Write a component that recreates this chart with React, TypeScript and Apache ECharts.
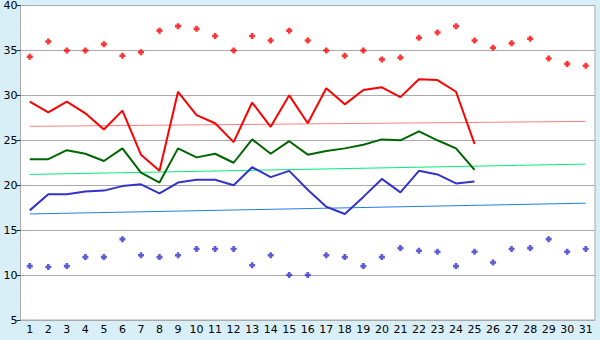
import React, { useEffect, useRef } from "react";
import * as echarts from "echarts";

const days = Array.from({ length: 31 }, (_, i) => String(i + 1));

const maxPoints = [34.3, 36.0, 35.0, 35.0, 35.7, 34.4, 34.8, 37.2, 37.7, 37.4, 36.6, 35.0, 36.6, 36.1, 37.2, 36.1, 35.0, 34.4, 35.0, 34.0, 34.2, 36.4, 37.0, 37.7, 36.1, 35.3, 35.8, 36.3, 34.1, 33.5, 33.3];
const minPoints = [11.0, 10.9, 11.0, 12.0, 12.0, 14.0, 12.2, 12.0, 12.2, 12.9, 12.9, 12.9, 11.1, 12.2, 10.0, 10.0, 12.2, 12.0, 11.0, 12.0, 13.0, 12.7, 12.6, 11.0, 12.6, 11.4, 12.9, 13.0, 14.0, 12.6, 12.9];
const maxLine = [29.3, 28.1, 29.3, 28.0, 26.2, 28.3, 23.4, 21.6, 30.4, 27.8, 26.9, 24.8, 29.2, 26.5, 30.0, 26.9, 30.8, 29.0, 30.6, 30.9, 29.8, 31.8, 31.7, 30.4, 24.6];
const meanLine = [22.9, 22.9, 23.9, 23.5, 22.7, 24.1, 21.4, 20.3, 24.1, 23.1, 23.5, 22.5, 25.1, 23.5, 24.9, 23.4, 23.8, 24.1, 24.5, 25.1, 25.0, 26.0, 25.0, 24.1, 21.7];
const minLine = [17.2, 19.0, 19.0, 19.3, 19.4, 19.9, 20.1, 19.1, 20.3, 20.6, 20.6, 20.0, 22.0, 20.9, 21.6, 19.5, 17.6, 16.8, 18.7, 20.7, 19.2, 21.6, 21.2, 20.2, 20.4];
const maxTrend: [number, number][] = [[0, 26.55], [30, 27.1]];
const meanTrend: [number, number][] = [[0, 21.2], [30, 22.35]];
const minTrend: [number, number][] = [[0, 16.8], [30, 18.0]];

const plus = "path://M1.7,0H4.3V1.7H6V4.3H4.3V6H1.7V4.3H0V1.7H1.7Z";

export default function App() {
  const ref = useRef<HTMLDivElement>(null);
  useEffect(() => {
    const chart = echarts.init(ref.current!, null, { renderer: "svg" });
    const font = "DejaVu Sans";
    chart.setOption({
      animation: false,
      backgroundColor: "#d9eff7",
      textStyle: { fontFamily: font },
      grid: {
        left: 20.5,
        right: 5,
        top: 5,
        bottom: 20,
        show: true,
        backgroundColor: "#ffffff",
        borderColor: "#aaaaaa",
        borderWidth: 1,
      },
      xAxis: {
        type: "category",
        data: days,
        boundaryGap: true,
        axisLine: { lineStyle: { color: "#aaaaaa" } },
        axisTick: { alignWithLabel: true, length: 5, lineStyle: { color: "#222222" } },
        axisLabel: { color: "#000000", fontSize: 11, fontFamily: font, margin: 4, interval: 0 },
        splitLine: { show: false },
      },
      yAxis: {
        type: "value",
        min: 5,
        max: 40,
        interval: 5,
        axisLine: { show: true, lineStyle: { color: "#aaaaaa" } },
        axisTick: { show: true, length: 4, lineStyle: { color: "#222222" } },
        axisLabel: { color: "#000000", fontSize: 11, fontFamily: font, margin: 3 },
        splitLine: { lineStyle: { color: "#aaaaaa", width: 1 } },
      },
      series: [
        { type: "line", data: maxTrend, symbol: "none", lineStyle: { color: "#ff8080", width: 1 } },
        { type: "line", data: meanTrend, symbol: "none", lineStyle: { color: "#00ee77", width: 1 } },
        { type: "line", data: minTrend, symbol: "none", lineStyle: { color: "#1e7fe8", width: 1 } },
        { type: "line", data: maxLine, symbol: "none", lineStyle: { color: "#ff0000", width: 2 } },
        { type: "line", data: meanLine, symbol: "none", lineStyle: { color: "#006600", width: 2 } },
        { type: "line", data: minLine, symbol: "none", lineStyle: { color: "#3333cc", width: 2 } },
        { type: "scatter", data: maxPoints, symbol: plus, symbolSize: 6, itemStyle: { color: "#ff0000" } },
        { type: "scatter", data: minPoints, symbol: plus, symbolSize: 6, itemStyle: { color: "#3333cc" } },
      ],
    });
    return () => chart.dispose();
  }, []);
  return (
    <div
      ref={ref}
      style={{ position: "fixed", left: 0, top: 0, width: 600, height: 340 }}
    />
  );
}
